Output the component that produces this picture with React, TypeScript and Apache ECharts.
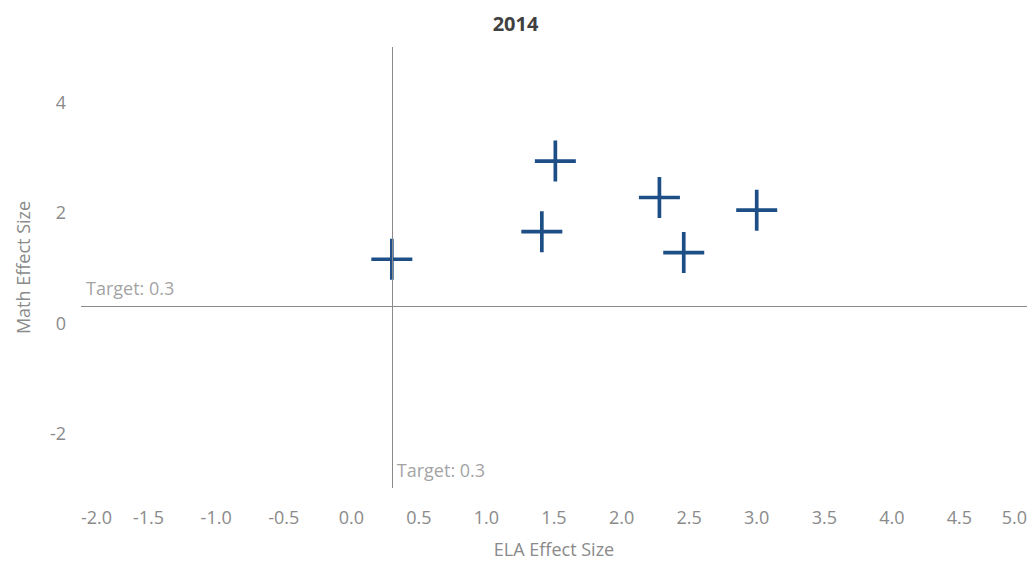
import React, { useEffect, useRef } from "react";
import * as echarts from "echarts";

const elaEffect = [0.3, 1.41, 1.51, 2.28, 2.46, 3.0];
const mathEffect = [1.15, 1.65, 2.93, 2.27, 1.27, 2.04];
const targetValue = 0.3;
const xTickStep = 0.5;
const yTickValues = [-2, 0, 2, 4];
const titleText = "2014";
const xName = "ELA Effect Size";
const yName = "Math Effect Size";
const targetLabel = "Target: 0.3";

const PLUS =
  "path://M9.1,0h1.8v9.1h9.1v1.8h-9.1v9.1h-1.8v-9.1h-9.1v-1.8h9.1z";

export default function App() {
  const ref = useRef<HTMLDivElement>(null);
  useEffect(() => {
    if (!ref.current) return;
    const chart = echarts.init(ref.current, undefined, { renderer: "svg" });
    const font = "'Open Sans', 'Noto Sans', sans-serif";
    const gray = "#8a8a8a";
    chart.setOption({
      animation: false,
      textStyle: { fontFamily: font },
      title: {
        text: titleText,
        left: "center",
        top: 8,
        textStyle: { fontFamily: font, fontSize: 20, fontWeight: "bold", color: "#404040" },
      },
      grid: { left: 81, right: 4, top: 47, bottom: 77 },
      xAxis: {
        type: "value",
        min: -2,
        max: 5,
        interval: xTickStep,
        name: xName,
        nameLocation: "middle",
        nameGap: 52,
        nameTextStyle: { fontFamily: font, fontSize: 18, color: gray },
        axisLine: { show: false },
        axisTick: { show: false },
        splitLine: { show: false },
        axisLabel: {
          fontFamily: font,
          fontSize: 18,
          color: gray,
          margin: 20,
          alignMinLabel: "left",
          alignMaxLabel: "right",
          formatter: (v: number) => v.toFixed(1),
        },
      },
      yAxis: {
        type: "value",
        min: -3,
        max: 5,
        name: yName,
        nameLocation: "middle",
        nameGap: 49,
        nameTextStyle: { fontFamily: font, fontSize: 18, color: gray },
        axisLine: { show: false },
        axisTick: { show: false },
        splitLine: { show: false },
        axisLabel: {
          fontFamily: font,
          fontSize: 18,
          color: gray,
          margin: 15,
          customValues: yTickValues,
        },
      },
      series: [
        {
          type: "scatter",
          data: elaEffect.map((x, i) => [x, mathEffect[i]]),
          symbol: PLUS,
          symbolSize: 41,
          itemStyle: { color: "#1d4f86", opacity: 1 },
          markLine: {
            silent: true,
            symbol: "none",
            label: { show: false },
            lineStyle: { color: gray, width: 1, type: "solid" },
            data: [{ xAxis: targetValue }, { yAxis: targetValue }],
          },
          z: 3,
        },
        {
          type: "scatter",
          symbolSize: 0,
          silent: true,
          data: [
            [-2, targetValue],
            [targetValue, -3],
          ],
          label: {
            show: true,
            formatter: targetLabel,
            position: [5, -27],
            fontFamily: font,
            fontSize: 18,
            color: gray,
          },
        },
      ],
    });
    return () => chart.dispose();
  }, []);
  return (
    <div
      ref={ref}
      style={{ position: "absolute", left: 0, top: 0, width: 1031, height: 565, background: "#fff" }}
    />
  );
}
